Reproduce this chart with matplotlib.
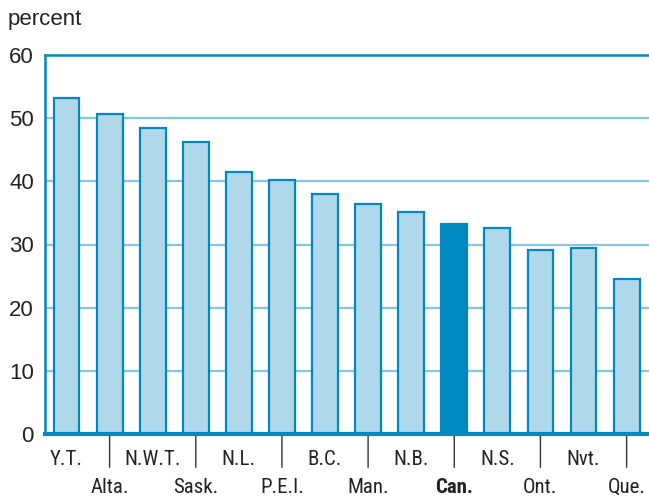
import matplotlib
matplotlib.use("Agg")
import matplotlib.pyplot as plt

# Data (percent)
regions = ["Y.T.", "Alta.", "N.W.T.", "Sask.", "N.L.", "P.E.I.", "B.C.",
           "Man.", "N.B.", "Can.", "N.S.", "Ont.", "Nvt.", "Que."]
values = [53.2, 50.7, 48.4, 46.2, 41.5, 40.2, 38.0,
          36.4, 35.1, 33.2, 32.6, 29.1, 29.4, 24.5]
yticks = [0, 10, 20, 30, 40, 50, 60]

LIGHT = "#afd8ea"
DARK = "#0088c0"
GRID = "#86c6e2"
TEXT = "#222222"
FONT = ["Roboto Condensed", "DejaVu Sans"]
PLAIN = ["Liberation Sans", "DejaVu Sans"]

fig = plt.figure(figsize=(6.49, 4.96), dpi=100)
ax = fig.add_axes([45 / 649, 1 - 434 / 496, 604 / 649, 379 / 496])

x = list(range(len(regions)))
colors = [DARK if r == "Can." else LIGHT for r in regions]
ax.bar(x, values, width=0.6, color=colors, edgecolor=DARK, linewidth=1.6, zorder=3)

ax.set_xlim(-0.5, len(regions) - 0.48)
ax.set_ylim(0, 60)
ax.set_yticks(yticks)
ax.set_yticklabels([str(v) for v in yticks], fontsize=16, family=PLAIN)
for v in yticks[1:-1]:
    ax.axhline(v, color=GRID, linewidth=1.6, zorder=1)

for s in ["top", "left"]:
    ax.spines[s].set_color(DARK)
    ax.spines[s].set_linewidth(1.8)
ax.spines["right"].set_visible(False)
ax.spines["bottom"].set_color(DARK)
ax.spines["bottom"].set_linewidth(3)
ax.spines["bottom"].set_zorder(4)
ax.tick_params(axis="y", length=0, pad=8, colors=TEXT)
ax.tick_params(axis="x", length=0)
ax.set_xticks([])

# two-row labels with separators under the lower-row names
for i, r in enumerate(regions):
    weight = "bold" if r == "Can." else "normal"
    dy = -22.5 if i % 2 == 0 else -42.5
    ax.annotate(r, (i, 0), xytext=(0, dy), textcoords="offset points",
                ha="center", va="baseline", fontsize=15, family=FONT,
                weight=weight, color=TEXT, annotation_clip=False)
    if i % 2 == 1:
        ax.annotate("", (i, 0), xytext=(0, -24), textcoords="offset points",
                    arrowprops=dict(arrowstyle="-", color="#333333", lw=1,
                                    shrinkA=0, shrinkB=0),
                    annotation_clip=False)

fig.text(8 / 649, 1 - 20 / 496, "percent", fontsize=16, family=PLAIN,
         color=TEXT, va="center", ha="left")

fig.savefig("out.png", dpi=100)
